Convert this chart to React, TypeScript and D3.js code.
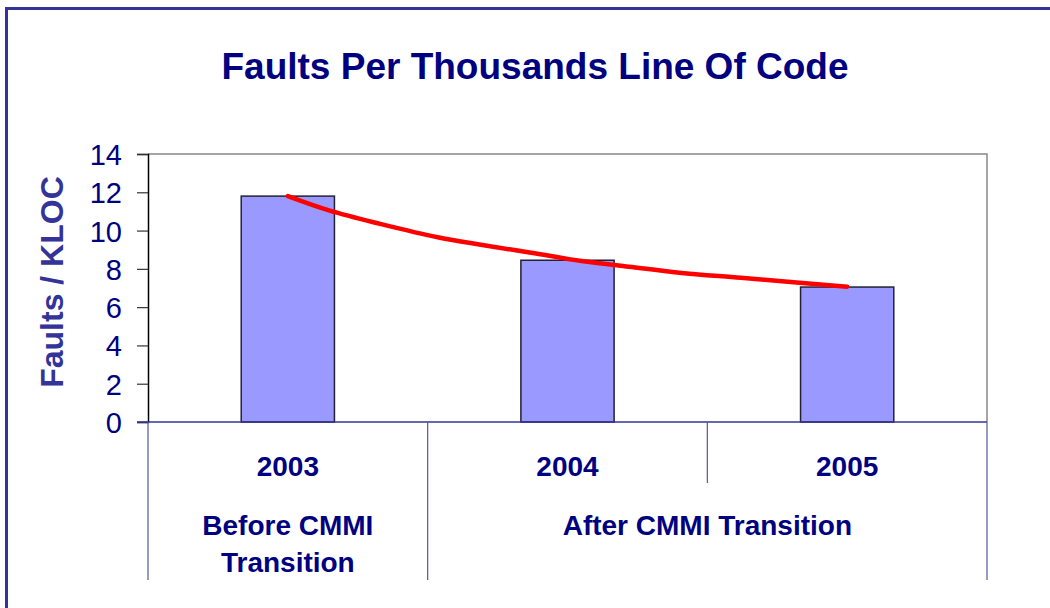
import React, { useEffect, useRef } from 'react';
import * as d3 from 'd3';

const years = ['2003', '2004', '2005'];
const faultsPerKloc = [11.8, 8.45, 7.05];
const yTicks = [0, 2, 4, 6, 8, 10, 12, 14];

// red trend curve (position in category steps from 2003)
const trendPos = [0, 0.15, 0.33, 0.54, 0.69, 0.87, 1.05, 1.22, 1.4, 1.62, 2];
const trendVal = [11.8, 11.04, 10.35, 9.64, 9.26, 8.84, 8.41, 8.11, 7.8, 7.53, 7.07];

const groups = [
  { lines: ['Before CMMI', 'Transition'], from: 0, to: 1 },
  { lines: ['After CMMI Transition'], from: 1, to: 3 },
];

const FONT = 'Arial, "Liberation Sans", Helvetica, sans-serif';
const NAVY = '#000080';
const BLUE = '#333399';

export default function App() {
  const svgRef = useRef<SVGSVGElement>(null);

  useEffect(() => {
    if (!svgRef.current) return;
    const svg = d3.select(svgRef.current);
    svg.selectAll('*').remove();

    const left = 148, right = 987, top = 154, bottom = 422;

    // outer frame (only top/left edges are in view)
    svg.append('rect')
      .attr('x', 6.5).attr('y', 8.5)
      .attr('width', 1200).attr('height', 800)
      .attr('fill', 'none')
      .attr('stroke', BLUE)
      .attr('stroke-width', 3);

    svg.append('text')
      .attr('x', 535).attr('y', 79)
      .attr('text-anchor', 'middle')
      .attr('font-family', FONT)
      .attr('font-weight', 'bold')
      .attr('font-size', 37)
      .attr('fill', NAVY)
      .text('Faults Per Thousands Line Of Code');

    const x = d3.scaleBand<string>()
      .domain(years)
      .range([left, right])
      .paddingInner(0)
      .paddingOuter(0);

    const y = d3.scaleLinear().domain([0, 14]).range([bottom, top]);

    const step = x.step();
    const xCenter = d3.scaleLinear()
      .domain([0, 1])
      .range([x(years[0])! + step / 2, x(years[0])! + step * 1.5]);

    // plot border: top and right gray
    svg.append('path')
      .attr('d', `M${left},${top}H${right}V${bottom}`)
      .attr('fill', 'none')
      .attr('stroke', '#888')
      .attr('stroke-width', 1.5);

    // bars
    const barW = step / 3;
    svg.selectAll('.bar')
      .data(years)
      .enter()
      .append('rect')
      .attr('class', 'bar')
      .attr('x', d => x(d)! + (step - barW) / 2)
      .attr('y', (_, i) => y(faultsPerKloc[i]))
      .attr('width', barW)
      .attr('height', (_, i) => bottom - y(faultsPerKloc[i]))
      .attr('fill', '#9999FF')
      .attr('stroke', '#222233')
      .attr('stroke-width', 1.5);

    // y axis
    const yAxis = svg.append('g')
      .attr('transform', `translate(${left},0)`)
      .call(d3.axisLeft(y).tickValues(yTicks).tickSize(11).tickPadding(15));
    yAxis.select('.domain').attr('stroke', '#000').attr('stroke-width', 1.5);
    yAxis.selectAll('.tick line').attr('stroke', '#333').attr('stroke-width', 1.2);
    yAxis.selectAll('.tick text')
      .attr('font-family', FONT)
      .attr('font-size', 29)
      .attr('fill', NAVY)
      .attr('dy', '0.36em');

    // bottom axis line
    svg.append('line')
      .attr('x1', left - 11).attr('x2', right)
      .attr('y1', bottom).attr('y2', bottom)
      .attr('stroke', BLUE)
      .attr('stroke-width', 1.5);

    // category separators
    const sepTall = 580, sepShort = 483;
    const seps = [
      { x: left, y2: sepTall },
      { x: x(years[1])!, y2: sepTall },
      { x: x(years[2])!, y2: sepShort },
      { x: right, y2: sepTall },
    ];
    svg.selectAll('.sep')
      .data(seps)
      .enter()
      .append('line')
      .attr('x1', d => d.x).attr('x2', d => d.x)
      .attr('y1', bottom).attr('y2', d => d.y2)
      .attr('stroke', '#5555a0')
      .attr('stroke-width', 1.2);

    // year labels
    svg.selectAll('.year')
      .data(years)
      .enter()
      .append('text')
      .attr('x', d => x(d)! + step / 2)
      .attr('y', 476)
      .attr('text-anchor', 'middle')
      .attr('font-family', FONT)
      .attr('font-weight', 'bold')
      .attr('font-size', 28)
      .attr('fill', NAVY)
      .text(d => d);

    // group labels
    groups.forEach(g => {
      const cx = left + step * (g.from + g.to) / 2;
      g.lines.forEach((ln, i) => {
        svg.append('text')
          .attr('x', cx)
          .attr('y', 535 + i * 37)
          .attr('text-anchor', 'middle')
          .attr('font-family', FONT)
          .attr('font-weight', 'bold')
          .attr('font-size', 28)
          .attr('fill', NAVY)
          .text(ln);
      });
    });

    // y label
    svg.append('text')
      .attr('transform', `translate(63,282) rotate(-90)`)
      .attr('text-anchor', 'middle')
      .attr('font-family', FONT)
      .attr('font-weight', 'bold')
      .attr('font-size', 32)
      .attr('fill', BLUE)
      .text('Faults / KLOC');

    // trend line
    const line = d3.line<number>()
      .x((_, i) => xCenter(trendPos[i]))
      .y(d => y(d))
      .curve(d3.curveCatmullRom);
    svg.append('path')
      .datum(trendVal)
      .attr('fill', 'none')
      .attr('stroke', '#FF0000')
      .attr('stroke-width', 4.5)
      .attr('stroke-linecap', 'round')
      .attr('d', line);
  }, []);

  return (
    <svg
      ref={svgRef}
      width={1050}
      height={608}
      style={{ position: 'absolute', left: 0, top: 0, background: '#fff' }}
    />
  );
}
